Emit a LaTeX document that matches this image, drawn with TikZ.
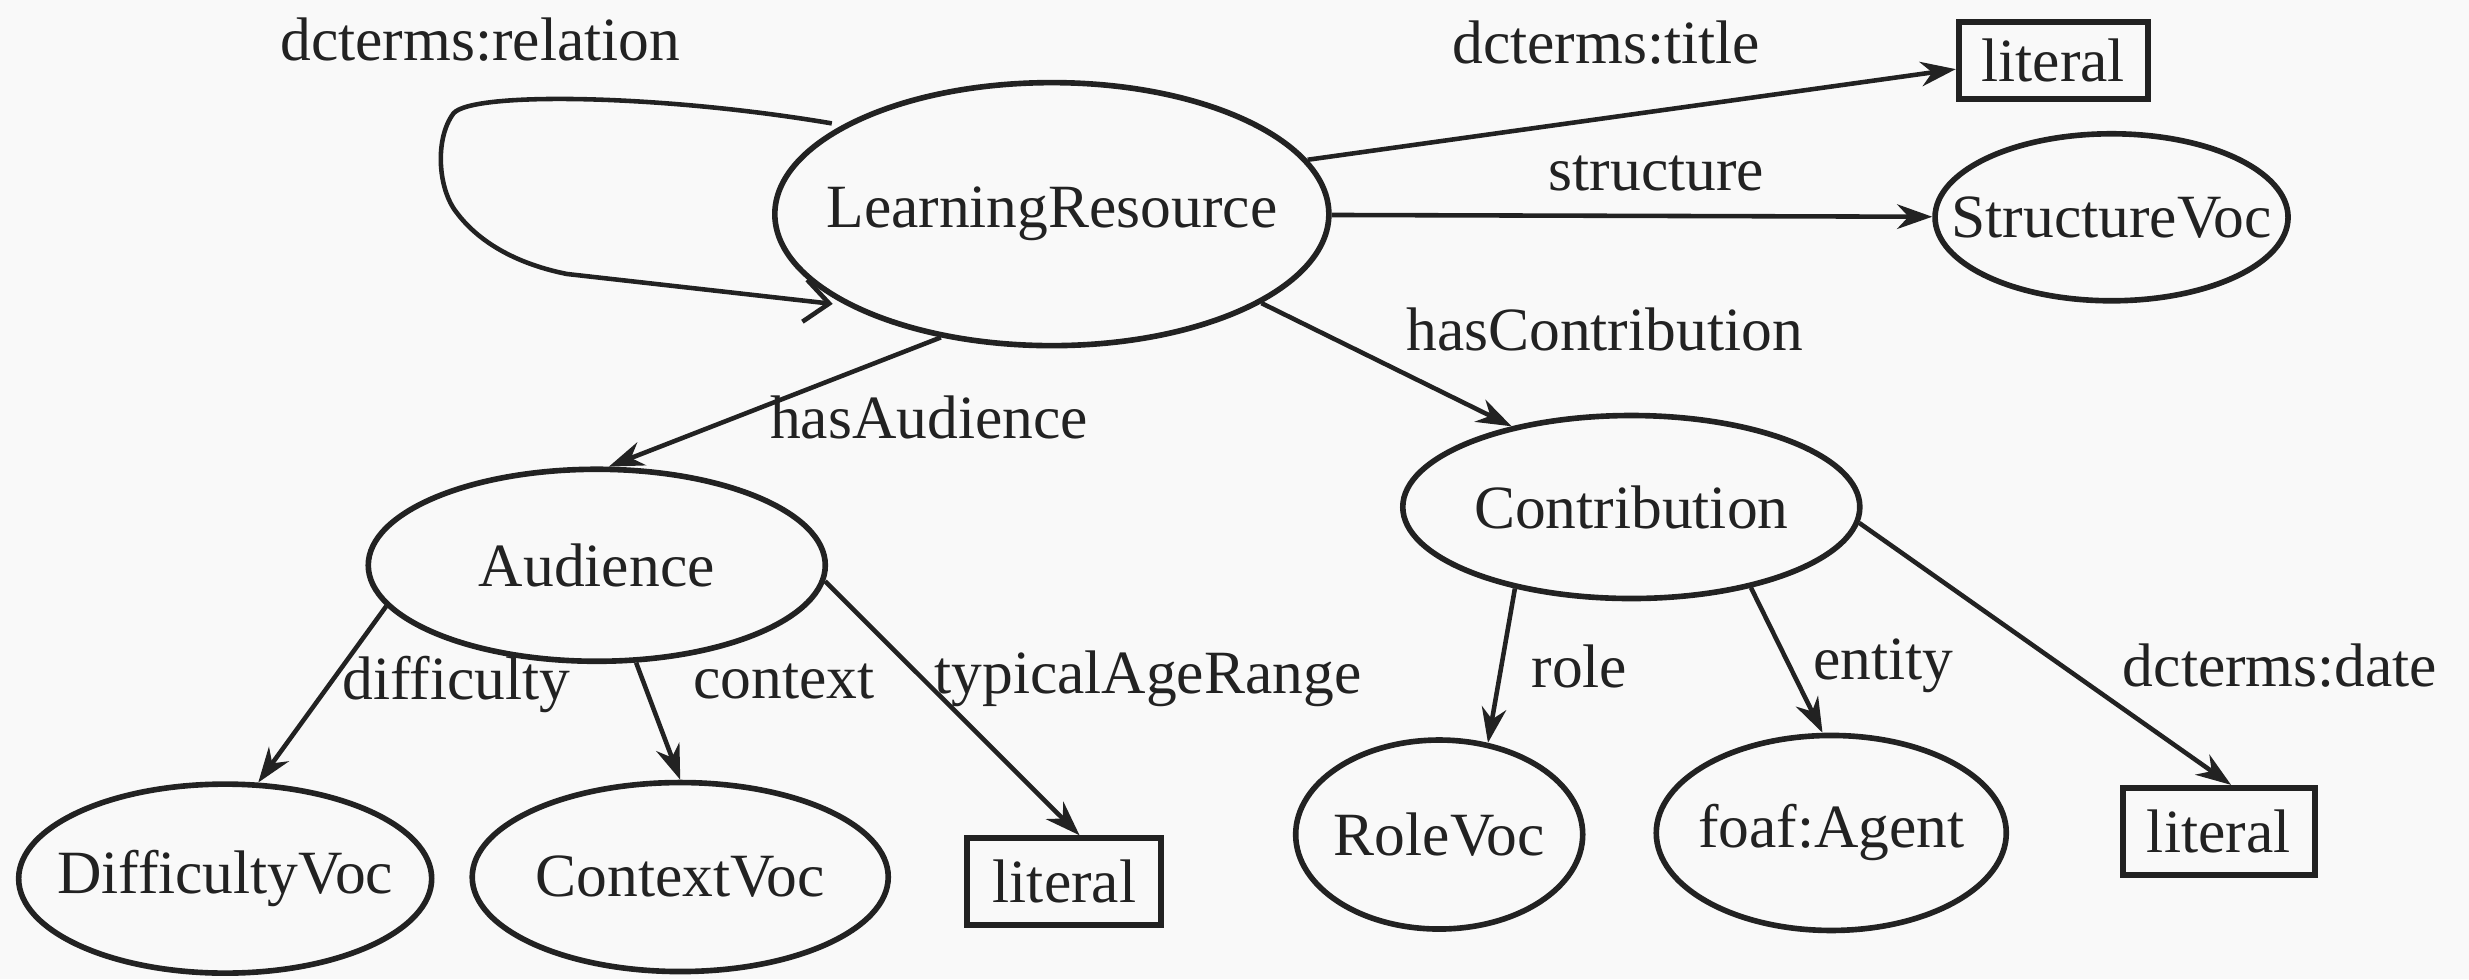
\documentclass[tikz,border=0pt]{standalone}
\usepackage{fontspec}
\setmainfont{Liberation Serif}
\usetikzlibrary{shapes.geometric,arrows.meta}
\definecolor{ink}{HTML}{222222}
\definecolor{paper}{HTML}{F9F9F9}
\tikzset{
  vocab/.style={draw=ink,ellipse,line width=1.6pt,inner sep=0pt},
  literal/.style={draw=ink,rectangle,line width=1.7pt,inner sep=0pt},
  prop/.style={draw=ink,line width=1.3pt,-{Stealth[length=10pt,width=7pt]}},
  proplabel/.style={text=ink,inner sep=0pt}
}
\begin{document}
\begin{tikzpicture}[x=0.15746mm,y=-0.15746mm,font=\fontsize{17.5}{20}\selectfont,text=ink]
			\fill[paper] (0,0) rectangle (1568,622);
			\useasboundingbox (0,0) rectangle (1568,622);
			% nodes
			\node[vocab,minimum width=5.54cm,minimum height=2.63cm,label=center:LearningResource] (lr) at (668,136) {};
			\node[literal,minimum width=1.89cm,minimum height=0.77cm] (littitle) at (1304,38.5) {literal};
			\node[vocab,minimum width=3.53cm,minimum height=1.67cm,label=center:StructureVoc] (svoc) at (1341,138) {};
			\node[vocab,minimum width=4.57cm,minimum height=1.83cm,label=center:Contribution] (contrib) at (1036,322) {};
			\node[vocab,minimum width=4.57cm,minimum height=1.92cm,label=center:Audience] (aud) at (379,359) {};
			\node[vocab,minimum width=4.13cm,minimum height=1.89cm,label=center:DifficultyVoc] (dvoc) at (143,558) {};
			\node[vocab,minimum width=4.16cm,minimum height=1.89cm,label=center:ContextVoc] (cvoc) at (432,557) {};
			\node[literal,minimum width=1.94cm,minimum height=0.87cm] (litage) at (676,560) {literal};
			\node[vocab,minimum width=2.87cm,minimum height=1.89cm,label=center:RoleVoc] (rvoc) at (914,530) {};
			\node[vocab,minimum width=3.50cm,minimum height=1.95cm,label=center:foaf:Agent] (agent) at (1163,529) {};
			\node[literal,minimum width=1.92cm,minimum height=0.87cm] (litdate) at (1409,528) {literal};
			% LearningResource properties
			\draw[prop,-{Straight Barb[length=7pt,width=12pt]},shorten <=3pt,shorten >=4pt] (lr.157) .. controls (420,60) and (300,58) .. (288,72)
				.. controls (276,88) and (278,120) .. (290,135)
				.. controls (305,155) and (330,168) .. (360,174) -- (lr.204);
			\draw[prop] (lr.12) -- (littitle.185);
			\draw[prop] (lr) -- (svoc);
			\draw[prop] (lr.337) -- (contrib.146);
			\draw[prop] (lr.228) -- (aud.83);
			\node[proplabel] (lrelation) at (305,25) {dcterms:relation};
			\node[proplabel] (ltitle) at (1020,27) {dcterms:title};
			\node[proplabel] (lstructure) at (1052,110) {structure};
			\node[proplabel] (lcontrib) at (1019,209) {hasContribution};
			\node[proplabel] (laudience) at (590,265) {hasAudience};
			% Audience properties
			\draw[prop] (aud.191) -- (dvoc.71);
			\draw[prop] (aud.292) -- (cvoc.north);
			\draw[prop] (aud.356) -- (litage.72);
			\node[proplabel] (ldifficulty) at (290,435) {difficulty};
			\node[proplabel] (lcontext) at (498,433) {context};
			\node[proplabel] (lage) at (729,431) {typicalAgeRange};
			% Contribution properties
			\draw[prop] (contrib.215) -- (rvoc.62);
			\draw[prop] (contrib.326) -- (agent.95);
			\draw[prop] (contrib.356) -- (litdate.75);
			\node[proplabel] (lrole) at (1003,423) {role};
			\node[proplabel] (lentity) at (1196,423) {entity};
			\node[proplabel] (ldate) at (1448,423) {dcterms:date};
		\end{tikzpicture}
\end{document}
